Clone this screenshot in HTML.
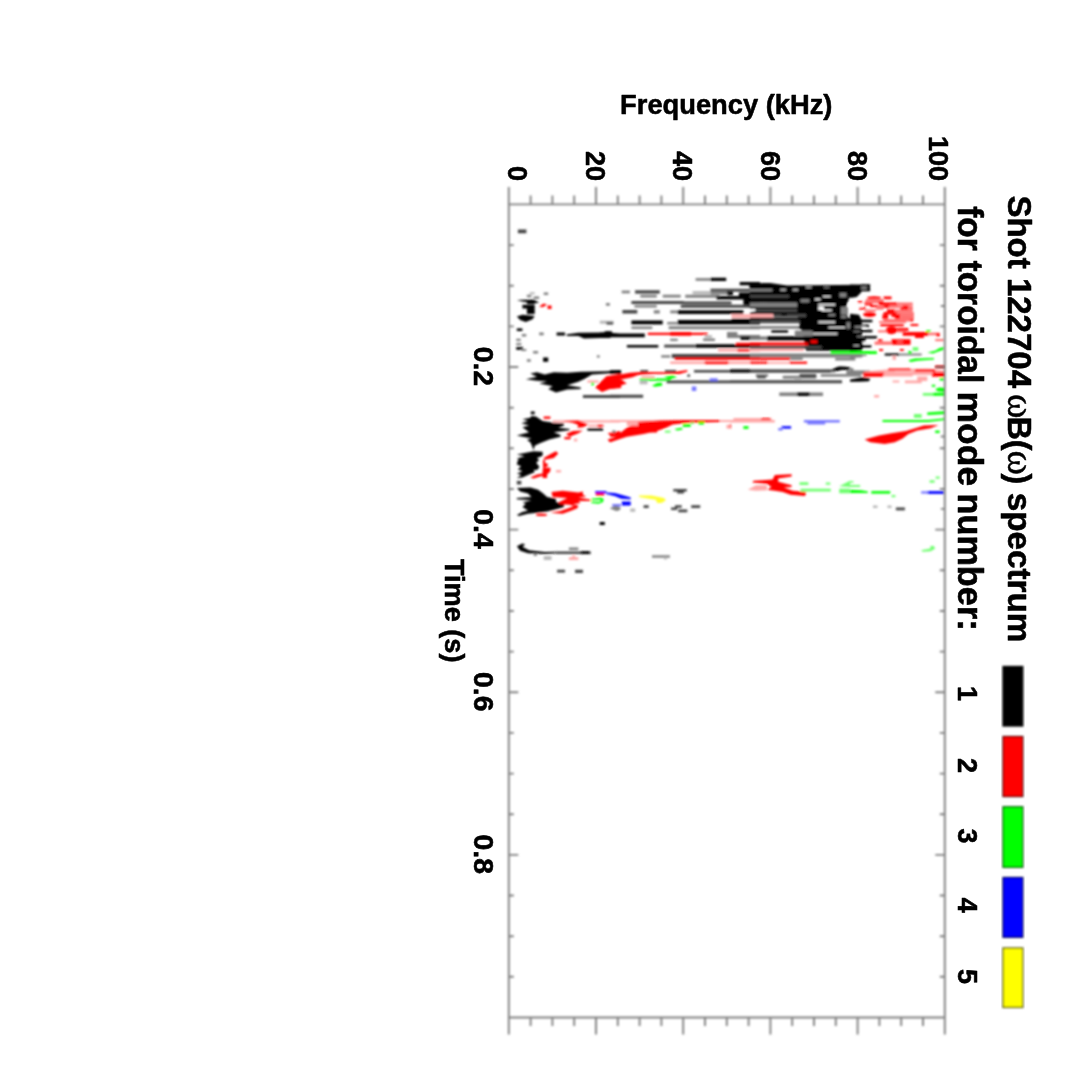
<!DOCTYPE html>
<html lang="en"><head><meta charset="utf-8"><title>Shot 122704 spectrum</title>
<style>html,body{margin:0;padding:0;background:#fff}svg{display:block}text{font-family:"Liberation Sans",Arial,Helvetica,sans-serif;font-weight:bold;fill:#000}.sym{font-family:"Liberation Serif","DejaVu Serif",serif;font-weight:normal;stroke:#000;stroke-width:0.5px}</style></head><body>
<svg width="1071" height="1071" viewBox="0 0 1071 1071">
<defs><filter id="bl" x="-2%" y="-2%" width="104%" height="104%"><feGaussianBlur stdDeviation="0.9"/></filter><filter id="tb"><feGaussianBlur stdDeviation="0.9"/></filter><filter id="ab"><feGaussianBlur stdDeviation="0.9"/></filter><clipPath id="cp"><rect x="508.8" y="204.4" width="436.5" height="813.1"/></clipPath></defs>
<rect width="1071" height="1071" fill="#fff"/>
<g clip-path="url(#cp)"><g filter="url(#bl)">
<path fill="#808080" d="M695.6 278.1H710.5V280.8H695.6Z"/>
<path fill="#000" d="M710.5 277.8H726.2V281.1H710.5ZM739.7 282H760V285.2H739.7ZM749.4 284.2H760V288.1H749.4Z"/>
<path fill="#444" d="M710.5 288.7H760V291.8H710.5Z"/>
<path fill="#b8b8b8" d="M692.6 291.1H710.5V294.3H692.6Z"/>
<path fill="#808080" d="M710.5 290.9H730V294.5H710.5Z"/>
<path fill="#000" d="M727 291.5H733V295.1H727ZM738.9 292.4H760V296.3H738.9Z"/>
<path fill="#808080" d="M621.7 290.6H629.9V293.3H621.7Z"/>
<path fill="#444" d="M635.1 290.3H659.8V293.6H635.1Z"/>
<path fill="#808080" d="M640.3 294.8H656.8V297.5H640.3ZM662.7 294.8H680.7V297.5H662.7ZM685.2 294.8H719.5V297.8H685.2Z"/>
<path fill="#000" d="M716.5 296.1H760V299.6H716.5ZM743.4 298.7H760V306.8H743.4Z"/>
<path fill="#444" d="M631.4 301.1H683.7V304.1H631.4ZM683.7 301.4H731.5V304.2H683.7Z"/>
<path fill="#808080" d="M606 303.2H609.7V305.6H606ZM634.4 305.1H656.8V307.5H634.4Z"/>
<path fill="#444" d="M680.7 304.7H749.4V307.7H680.7Z"/>
<path fill="#000" d="M749.4 304.4H760V308.3H749.4Z"/>
<path fill="#444" d="M752.4 307.4H760V312.7H752.4ZM622.4 310H637.3V313.5H622.4Z"/>
<path fill="#808080" d="M653.8 310.3H659.8V313.5H653.8ZM670.2 310.6H677.7V313.3H670.2Z"/>
<path fill="#000" d="M677.7 310.3H743.4V313.9H677.7Z"/>
<path fill="#ffa8a8" d="M731.5 314.3H760V317.8H731.5Z"/>
<path fill="#000" d="M731.5 318.6H760V321.7H731.5Z"/>
<path fill="#b8b8b8" d="M600 321H613.4V323.7H600Z"/>
<path fill="#000" d="M631.4 320.5H662.7V324.4H631.4Z"/>
<path fill="#808080" d="M667.2 322H677.7V324.4H667.2Z"/>
<path fill="#000" d="M677.7 320.1H760V324.4H677.7Z"/>
<path fill="#808080" d="M631.4 326.5H652.3V328.9H631.4ZM668.7 326.2H760V329.2H668.7Z"/>
<path fill="#000" d="M600 332.5H610.5V338.1H600ZM604.5 331.3H612V335.1H604.5ZM609 333.5H644.8V337.2H609Z"/>
<path fill="#ff0000" d="M647.8 332.7H707.6V334.9H647.8ZM670.2 331.9H691.1V335.7H670.2Z"/>
<path fill="#808080" d="M727 332H737.4V335.1H727ZM727 335H760V338.1H727Z"/>
<path fill="#000" d="M740.4 336.5H760V339.9H740.4Z"/>
<path fill="#808080" d="M670.2 338.7H677.7V341.1H670.2ZM703.1 338.4H715V341.1H703.1Z"/>
<path fill="#b8b8b8" d="M704.6 335.2H712V337.9H704.6Z"/>
<path fill="#000" d="M626.9 344.9H658.3V347.5H626.9Z"/>
<path fill="#444" d="M664.2 344.7H695.6V347.5H664.2Z"/>
<path fill="#000" d="M695.6 344.3H734.4V347.8H695.6ZM734.4 344.7H760V347.7H734.4Z"/>
<path fill="#ff0000" d="M735.9 342.8H760V345.4H735.9Z"/>
<path fill="#ffa8a8" d="M718 349.1H760V351.4H718Z"/>
<path fill="#ff0000" d="M737.4 349.4H749.4V351.4H737.4Z"/>
<path fill="#808080" d="M661.2 355.2H670.2V357.6H661.2Z"/>
<path fill="#444" d="M671.7 354H760V357.9H671.7Z"/>
<path fill="#ff0000" d="M674.7 357.6H760V360H674.7Z"/>
<path fill="#ffa8a8" d="M670.2 361.6H760V364.1H670.2Z"/>
<path fill="#ff0000" d="M704.6 361.6H728.5V364.1H704.6Z"/>
<path fill="#000" d="M750 283.2 L770.2 283 L787 285.5 L863.2 284.8 L870 286.8 L870 289.3 L857.6 291.3 L850.8 294.1 L847.5 302.5 L845.2 310.3 L848.6 318.2 L861.5 319.3 L862 350.7 L806 350.7 L803.8 337.2 L799.3 323.8 L794.8 303.6 L750 302.5Z"/>
<path fill="#808080" d="M750 288.8H772.4V291.5H750Z"/>
<path fill="#b8b8b8" d="M780.3 289H785.9V290.8H780.3ZM792.6 289H798.2V290.8H792.6Z"/>
<path fill="#444" d="M750 295.1H789.2V297.7H750Z"/>
<path fill="#808080" d="M750 302.6H797.1V307.6H750Z"/>
<path fill="#000" d="M750 307.1H797.1V309.1H750Z"/>
<path fill="#fff" d="M750 309H755.6V311.3H750Z"/>
<path fill="#444" d="M755.6 308.8H797.1V312.1H755.6Z"/>
<path fill="#000" d="M750 311.9H806V314.7H750Z"/>
<path fill="#ffa8a8" d="M750 314H773.5V317.9H750Z"/>
<path fill="#444" d="M773.5 314.1H806V317.3H773.5Z"/>
<path fill="#000" d="M781.4 312.1H787V315.3H781.4ZM750 317.7H800.4V320.4H750Z"/>
<path fill="#444" d="M750 320.2H800.4V323.3H750Z"/>
<path fill="#000" d="M798.2 326.1H817.2V328.7H798.2Z"/>
<path fill="#808080" d="M750 326.1H798.2V328.7H750Z"/>
<path fill="#000" d="M771.3 330.1H788.1V332.6H771.3Z"/>
<path fill="#808080" d="M794.8 330.6H812.7V336H794.8Z"/>
<path fill="#000" d="M766.8 336.2H808.3V340.5H766.8Z"/>
<path fill="#808080" d="M750 336.4H766.8V339.9H750Z"/>
<path fill="#ff0000" d="M750 342.6H808.3V345.5H750ZM810.5 340.3H817.2V343.1H810.5Z"/>
<path fill="#444" d="M750 345.7H821.7V348.7H750Z"/>
<path fill="#ffa8a8" d="M750 348.7H803.8V351.1H750Z"/>
<path fill="#808080" d="M750 353.4H862V357.6H750Z"/>
<path fill="#ff0000" d="M750 357.4H790.3V359.9H750Z"/>
<path fill="#808080" d="M790.3 357.5H802.7V360.1H790.3ZM835.2 358.1H855.3V360.6H835.2Z"/>
<path fill="#ff0000" d="M750 361.6H767.9V363.8H750Z"/>
<path fill="#ffa8a8" d="M767.9 361.9H789.2V363.8H767.9Z"/>
<path fill="#ff0000" d="M789.2 361.6H807.1V363.8H789.2Z"/>
<path fill="#808080" d="M750 369.8H835.2V372.4H750Z"/>
<path fill="#000" d="M832.9 369.7 L839.6 366.6 L850.8 367.3 L848.6 370.3 L839.6 369.7Z"/>
<path fill="#808080" d="M846.4 370.4H870V374.1H846.4Z"/>
<path fill="#fff" d="M806 287.2H811.6V288.1H806ZM823.9 287.2H829.6V287.8H823.9ZM822.8 295.9H830.7V297.1H822.8ZM815 298.4H820.6V299.9H815Z"/>
<path fill="#808080" d="M800.4 299.2H809.4V302.4H800.4Z"/>
<path fill="#fff" d="M818.3 304H835.2V305.5H818.3ZM818.3 306.2H823.9V310H818.3ZM821.7 309.6H831.8V311.1H821.7Z"/>
<path fill="#808080" d="M839.6 293.1H846.4V297.3H839.6ZM840.8 307.1H848V314.7H840.8Z"/>
<path fill="#fff" d="M848.6 304H862V306.6H848.6ZM828.4 314.6H835.2V315.6H828.4Z"/>
<path fill="#808080" d="M840.8 315.5H846.4V318.1H840.8Z"/>
<path fill="#fff" d="M818.3 321.3H835.2V322.9H818.3Z"/>
<path fill="#808080" d="M846.4 322.2H850.8V328.7H846.4Z"/>
<path fill="#fff" d="M828.4 326.9H845.2V327.9H828.4ZM854.2 326.9H865.4V327.9H854.2ZM853.1 331.4H860.9V332.4H853.1ZM857.6 336.5H864.3V337.4H857.6ZM862 342.1H870V343.6H862Z"/>
<path fill="#808080" d="M854.2 344.6H859.8V347.8H854.2Z"/>
<path fill="#fff" d="M812.7 333.1H837.4V334.6H812.7Z"/>
<path fill="#00ff00" d="M830.7 351.3H870V354.1H830.7Z"/>
<path fill="#000" d="M850 284.6 L862.3 284.8 L861.2 292.4 L856.7 296.9 L850 298ZM861.2 284.3H870.2V286.8H861.2ZM861.2 288.8H870.2V291.3H861.2Z"/>
<path fill="#808080" d="M861.2 286.4H866.8V289.3H861.2Z"/>
<path fill="#000" d="M850 313.7 L859 314.8 L861.2 319.3 L862.9 348.4 L856.7 350.7 L850 351.2ZM861.2 319.7H872.4V322.2H861.2ZM861.2 324.7H869V326.9H861.2ZM861.2 329.8H872.4V332.3H861.2ZM861.2 335.9H876.9V338.6H861.2ZM861.2 338.8H865.7V341.7H861.2ZM861.2 344.8H871.3V347.5H861.2Z"/>
<path fill="#fff" d="M854.5 326.4H864.6V327.5H854.5ZM853.4 330.9H860.1V331.6H853.4ZM856.7 336.2H863.4V336.7H856.7ZM853.4 345.2H859V346.1H853.4Z"/>
<path fill="#ff0000" d="M866.8 297.8a7.3 1.6 0 1 0 14.6 0a7.3 1.6 0 1 0 -14.6 0ZM883.6 296.6H891.5V299.2H883.6Z"/>
<path fill="#ff7070" d="M865.7 299.1H883.6V301.2H865.7Z"/>
<path fill="#ff0000" d="M857.8 301.1H862.3V303.3H857.8Z"/>
<path fill="#ff7070" d="M864.6 301.1H878V303.4H864.6Z"/>
<path fill="#ff0000" d="M878 301.3H883.6V303.4H878ZM864.6 302.9H872.4V305.2H864.6ZM879.1 302.5H897.1V305.4H879.1Z"/>
<path fill="#ff7070" d="M897.1 302.5H912.7V305.2H897.1Z"/>
<path fill="#ff0000" d="M870.2 305H878V307.2H870.2Z"/>
<path fill="#ff7070" d="M878 305.4H912.7V308.1H878Z"/>
<path fill="#ff0000" d="M883.6 305.4H889.2V307.7H883.6ZM902.7 305.4H908.3V307.7H902.7ZM859 307.3H865.7V309.5H859Z"/>
<path fill="#ff7070" d="M875.8 307.6H883.6V309.7H875.8Z"/>
<path fill="#ff0000" d="M900.4 307.8H908.3V310.6H900.4Z"/>
<path fill="#ff7070" d="M908.3 307.8H912.7V310.1H908.3ZM864.6 309.5H875.8V311.7H864.6Z"/>
<path fill="#ff0000" d="M887 309.2H894.8V311.9H887Z"/>
<path fill="#ff7070" d="M894.8 309.6H912.7V311.9H894.8Z"/>
<path fill="#ff0000" d="M863.1 314.6a6.5 2.5 0 1 0 13 0a6.5 2.5 0 1 0 -13 0ZM883.6 312.1H897.1V314.6H883.6Z"/>
<path fill="#ff7070" d="M897.1 312.1H913.9V314.8H897.1Z"/>
<path fill="#ff0000" d="M882.5 314.3H888.1V319.5H882.5ZM891.5 314.3H900.4V316.9H891.5ZM894.8 316.4H900.4V319.5H894.8Z"/>
<path fill="#ff7070" d="M900.4 314.6H913.9V319.5H900.4ZM883.6 319H912.7V321.6H883.6Z"/>
<path fill="#ff0000" d="M910.5 319H913.3V321.3H910.5Z"/>
<path fill="#ff7070" d="M879.1 321.1H906V323.1H879.1Z"/>
<path fill="#ff0000" d="M880.3 324.1H903.8V326.3H880.3ZM910.5 324.1H918.3V326H910.5ZM885.6 330.3a5.8 3.8 0 1 0 11.7 0a5.8 3.8 0 1 0 -11.7 0Z"/>
<path fill="#ff7070" d="M878 330.3H887V332.4H878Z"/>
<path fill="#ff0000" d="M897.1 328H908.3V331H897.1Z"/>
<path fill="#ff7070" d="M897.1 330.5H906V332.5H897.1Z"/>
<path fill="#ff0000" d="M902.7 331.9H928.4V335.7H902.7ZM915 335H923.9V338H915Z"/>
<path fill="#ff7070" d="M928.4 332.7H939.6V335.2H928.4Z"/>
<path fill="#ff0000" d="M936.3 333.1H939.6V336.4H936.3Z"/>
<path fill="#ff7070" d="M935.2 339H944.1V341.1H935.2Z"/>
<path fill="#ff0000" d="M891.5 339.2H910.5V344.8H891.5Z"/>
<path fill="#fff" d="M897.1 341.6H902.7V342.3H897.1Z"/>
<path fill="#ff7070" d="M874.6 341.5H891.5V344.8H874.6Z"/>
<path fill="#ff0000" d="M878 339.2H882.5V341.4H878ZM879.1 349.1H883.1V351.1H879.1ZM899.9 349.1H903.8V351.1H899.9Z"/>
<path fill="#ffa8a8" d="M892.6 356H895.9V359.9H892.6Z"/>
<path fill="#00ff00" d="M926.2 330.3H930.7V332.1H926.2ZM850 351.3H876.9V354.1H850Z"/>
<path fill="#000" d="M884.7 353.4H899.3V355.6H884.7Z"/>
<path fill="#808080" d="M899.3 353.4H921.7V355.6H899.3ZM850 354 L866.8 354.6 L866.8 355.7 L850 358.5Z"/>
<path fill="#70ff70" d="M912.7 347.1H918.3V350.9H912.7Z"/>
<path fill="#00ff00" d="M927.3 352.4 L935.2 350.7 L939.6 347.9 L944.1 347.3 L944.1 349.6 L937.4 351.8 L932.9 353.5ZM908.3 351H911.6V353.7H908.3ZM908.3 360.2 L915 358.5 L934 358 L934 359.6 L917.2 360.8 L910.5 362.1Z"/>
<path fill="#ff0000" d="M935.2 365.5H945V368.3H935.2Z"/>
<path fill="#ffa8a8" d="M864.6 371.4 L889.2 369.2 L928.4 368.6 L945 370.8 L945 375 L862.3 375Z"/>
<path fill="#ff0000" d="M888.1 368.6H910.5V370.4H888.1ZM915 369.5H935.2V371.7H915Z"/>
<path fill="#fff" d="M894.8 371H912.7V371.4H894.8Z"/>
<path fill="#ff0000" d="M863.4 372.6H883.6V374.7H863.4ZM932.9 372.3H945V375.2H932.9Z"/>
<path fill="#808080" d="M850 368.1H853.4V371.3H850Z"/>
<path fill="#ff0000" d="M863.4 374.3H883.6V376.7H863.4Z"/>
<path fill="#ffa8a8" d="M883.6 374.3H912.7V376.5H883.6Z"/>
<path fill="#ff0000" d="M931.8 373.7H945V376.7H931.8Z"/>
<path fill="#ffa8a8" d="M917.2 376.5H927.3V380.9H917.2ZM892.6 380.4H899.3V382.6H892.6ZM904.9 380.4H921.7V383.2H904.9Z"/>
<path fill="#000" d="M850 379.6 L861.2 377.3 L870.2 378.4 L869 381.2 L859 381.8 L850 381.8Z"/>
<path fill="#808080" d="M850 374.1H861.2V376.7H850Z"/>
<path fill="#00ff00" d="M939.6 378.2H944.1V380.4H939.6ZM931.8 384.7H935.2V386.8H931.8ZM935.2 389.1 L939.6 387.4 L945 388 L945 391.9 L937.4 391.3Z"/>
<path fill="#70ff70" d="M922.8 393H934V395.7H922.8Z"/>
<path fill="#00ff00" d="M932.9 392.8H945V395.7H932.9Z"/>
<path fill="#ffa8a8" d="M874.1 395H879.1V397.5H874.1Z"/>
<path fill="#00ff00" d="M927.3 412.6 L945 411.2 L945 414.1 L927.3 414.9Z"/>
<path fill="#70ff70" d="M913.9 414H921.7V417.9H913.9Z"/>
<path fill="#00ff00" d="M882.5 420.1 L900.4 419.9 L928.4 420.1 L945 418.3 L945 420.1 L928.4 421.9 L900.4 422.1 L882.5 422.1Z"/>
<path fill="#ff0000" d="M864.6 439.5 L879.1 435.6 L891.5 433.3 L906 431.1 L912.7 428.9 L923.9 425.5 L938.5 424.9 L930.7 428.3 L917.2 430.5 L908.3 433.9 L902.7 438.4 L894.8 442.3 L884.7 444 L870.2 442.3Z"/>
<path fill="#00ff00" d="M935.2 430.6H939.6V433H935.2Z"/>
<path fill="#444" d="M730 369.6H830.8V372.4H730Z"/>
<path fill="#000" d="M730 369.6H750.2V372.4H730ZM829.7 370.4 L837.6 366.7 L846.5 366.7 L850 368.9 L842 370 L836.4 371.2Z"/>
<path fill="#808080" d="M755.8 374.1H768.1V376.7H755.8Z"/>
<path fill="#444" d="M756.9 375.8H765.9V378.3H756.9Z"/>
<path fill="#808080" d="M782.7 375.8H816.3V378.7H782.7Z"/>
<path fill="#444" d="M799.5 374.1H816.3V377.2H799.5Z"/>
<path fill="#808080" d="M820.8 374.1H850V376.7H820.8Z"/>
<path fill="#b8b8b8" d="M793.9 378.2H801.7V380.4H793.9Z"/>
<path fill="#444" d="M730 380.2H842V383.2H730Z"/>
<path fill="#808080" d="M779.3 392.6H823V395.9H779.3Z"/>
<path fill="#000" d="M797.2 392.6H809.6V395.9H797.2Z"/>
<path fill="#ffa8a8" d="M733.4 418H771.5V420.4H733.4Z"/>
<path fill="#ff0000" d="M761.4 418H770.3V420.4H761.4Z"/>
<path fill="#ffa8a8" d="M730 419.9H774.8V422.4H730Z"/>
<path fill="#ff0000" d="M730 424.1H731.1V428.6H730Z"/>
<path fill="#00ff00" d="M743.4 426.2H748.5V428.9H743.4Z"/>
<path fill="#0000ff" d="M781.5 426.2H791.1V428.6H781.5Z"/>
<path fill="#7878ff" d="M778.2 428.1H782.7V430.5H778.2ZM803.9 419.9H839.8V422.4H803.9ZM807.3 421.9H825.2V424.4H807.3Z"/>
<path fill="#000" d="M516.8 300 L533.6 299.4 L539.2 302.5 L533.6 303.6 L522.4 301.6ZM526.9 300.9H534.7V304.1H526.9ZM522.4 304.8H534.7V308.5H522.4ZM526.9 307.6H534.7V314.1H526.9ZM516.8 316.5 L522.4 314.8 L534.7 315.9 L532.5 319.3 L525.8 322.1 L520.2 319.9Z"/>
<path fill="#808080" d="M526.9 294.8H531.4V297.3H526.9ZM533.6 296.4H539.2V299H533.6ZM543.7 292.5H548.2V295.1H543.7Z"/>
<path fill="#b8b8b8" d="M529.7 292.2H534.7V294.3H529.7Z"/>
<path fill="#ff0000" d="M539.2 306.4 L543.7 303.6 L547.1 304.7 L542.6 307.2ZM547.6 305.6H551.5V308.9H547.6Z"/>
<path fill="#808080" d="M605.9 303.2H609.8V305.4H605.9Z"/>
<path fill="#b8b8b8" d="M599.7 320.7H613.2V322.9H599.7Z"/>
<path fill="#444" d="M606.4 322H613.2V324.5H606.4Z"/>
<path fill="#000" d="M516.8 328.4H522.4V331H516.8Z"/>
<path fill="#808080" d="M521.8 334H526.3V336.6H521.8ZM539.2 332.5H543.7V335.2H539.2Z"/>
<path fill="#000" d="M556.6 332.5H565V335.4H556.6ZM566.1 334.4 L578.4 332.7 L605.3 332.5 L607.6 331.1 L612 332.7 L620 333.9 L620 336.1 L612 336.1 L607.6 337.8 L584 338.6 L578.4 336.1 L567.2 336.1Z"/>
<path fill="#808080" d="M516.2 338.8H520.7V341H516.2ZM516.2 342.9H521.3V345.3H516.2Z"/>
<path fill="#000" d="M516.2 346.9H523V349.8H516.2Z"/>
<path fill="#808080" d="M521.3 348.9H526.3V351.1H521.3ZM533.1 351.1H538.1V353.6H533.1ZM526.9 359.2H530.8V361.8H526.9Z"/>
<path fill="#000" d="M543.1 357.5H548.2V361.8H543.1Z"/>
<path fill="#808080" d="M596.9 355.3H599.7V357.6H596.9Z"/>
<path fill="#000" d="M525.8 379.3 L537 376.8 L530.3 373.4 L537 372.3 L544.8 374.5 L553.8 372.3 L567.2 372.8 L580.7 371.7 L606.4 371.2 L620 370 L620 372.8 L606.4 373.4 L591.9 374.5 L585.2 378.4 L578.4 381.8 L567.2 385.2 L580.7 387.4 L580.7 389.1 L567.2 389.6 L556 392.5 L548.2 389.1 L552.7 386.3 L539.2 383.5 L547.1 381.2 L537 380.7Z"/>
<path fill="#ff0000" d="M595.2 387.4 L600.8 381.8 L606.4 376.2 L620 374 L620 387.4 L609.8 389.1 L602 391.9Z"/>
<path fill="#ffa8a8" d="M587.4 380.4H598.6V382.6H587.4Z"/>
<path fill="#00ff00" d="M591.3 382.7H594.1V385.2H591.3Z"/>
<path fill="#444" d="M582.9 395H620V397.9H582.9Z"/>
<path fill="#000" d="M516.8 435.6 L529.1 432.2 L522.4 427.2 L529.1 425.5 L521.3 423.3 L528 421 L522.4 419.3 L530.3 417.7 L531.4 416 L535.9 416.5 L542.6 421 L553.8 422.7 L563.9 423.3 L563.9 425.5 L558.3 427.7 L569.5 428.9 L569.5 430.2 L553.8 432.2 L560.5 435 L560.5 436.7 L549.3 439.5 L539.2 443.4 L534.7 445.7 L533.6 450.2 L531.9 445.7 L530.3 442.3 L526.9 440.1 L531.4 438.4ZM530.8 411.6H534.7V414.2H530.8Z"/>
<path fill="#ff0000" d="M543.7 416.5H550.4V418.8H543.7Z"/>
<path fill="#ffa8a8" d="M552.7 420.2H620V422.4H552.7Z"/>
<path fill="#ff0000" d="M562.7 421 L578.4 420.5 L588.5 424.4 L582.9 427.2 L577.3 427.7 L578.4 424.9 L572.8 422.7Z"/>
<path fill="#ffa8a8" d="M588.5 424.7H604.2V426.7H588.5Z"/>
<path fill="#ff0000" d="M597.5 424.7H603.1V426.7H597.5Z"/>
<path fill="#000" d="M587.4 428.2H603.1V430.7H587.4Z"/>
<path fill="#ff0000" d="M566.1 433.9 L572.8 431.1 L582.9 430.5 L578.4 433.3 L569.5 436.7ZM564.4 437H570.6V439.2H564.4Z"/>
<path fill="#ffa8a8" d="M573.9 438.7H577.3V441.4H573.9Z"/>
<path fill="#ff0000" d="M607.6 433.3 L620 431.1 L620 433.3 L609.8 435ZM607.6 439.5 L620 435.6 L620 438.4 L609.8 442.3Z"/>
<path fill="#000" d="M516.8 454.6 L533.6 451.3 L542.6 451.8 L542.6 455.8 L537 458 L539.2 460.2 L535.9 462.5 L539.2 466.4 L537 470 L517.9 470 L521.3 465.8 L516.8 463.6 L522.4 461.4 L516.8 458.6 L524.6 456.3Z"/>
<path fill="#ff0000" d="M543.7 458 L551.5 453.5 L556 451.3 L558.3 453.5 L553.8 458 L544.8 459.7ZM543.1 460H544.8V470.2H543.1ZM544.8 463.3H547.1V466.7H544.8ZM544.8 467.8H550.4V470.2H544.8Z"/>
<path fill="#000" d="M610 370.2H621.2V373.9H610Z"/>
<path fill="#444" d="M640.3 369.9H648.1V372.4H640.3ZM664.9 369.9H676.1V372.4H664.9Z"/>
<path fill="#ff0000" d="M610 376.2 L630.2 372.8 L640.3 371.9 L672.7 372.3 L687.3 370 L687.3 371.7 L679.5 374 L654.8 374 L638 375.1 L632.4 377.3 L621.2 379.6 L610 379.6Z"/>
<path fill="#ffa8a8" d="M641.4 376H654.8V378.1H641.4Z"/>
<path fill="#ff0000" d="M610 379.6 L621.2 379.6 L626.8 383.5 L621.2 385.2 L621.2 388 L610 389.1Z"/>
<path fill="#00ff00" d="M639.7 378.4H670.5V380.7H639.7ZM663.8 376.8 L672.7 375.6 L677.2 377.3 L670.5 379ZM652 385.7 L657.1 382.9 L662.1 382.7 L662.1 385.7 L654.8 386.8Z"/>
<path fill="#b8b8b8" d="M639.7 380.4H647.5V384.3H639.7Z"/>
<path fill="#444" d="M687.3 374.4H690.1V376.7H687.3ZM694 369.9H730V372.6H694ZM666.6 380.5H730V383.2H666.6Z"/>
<path fill="#7878ff" d="M709.7 378.2H717.6V380.9H709.7ZM691.8 386.6H696.3V391H691.8Z"/>
<path fill="#444" d="M610 394.8H643.1V397.7H610Z"/>
<path fill="#ffa8a8" d="M610 419.9H730V421.9H610Z"/>
<path fill="#ff0000" d="M610 434.5 L621.2 432.2 L626.8 427.7 L638 422.1 L660.4 420.5 L688.4 420.1 L719.8 420.1 L719.8 421.9 L688.4 422.7 L672.7 424.4 L666 427.7 L657.1 431.1 L643.6 433.9 L626.8 436.7 L610 442.3 L610 440.1 L616.7 436.7 L610 436.7Z"/>
<path fill="#ffa8a8" d="M626.8 421.9H638V425.8H626.8Z"/>
<path fill="#ff0000" d="M650.3 430.3H657.1V432.5H650.3Z"/>
<path fill="#00ff00" d="M682.8 424.1H690.7V426.9H682.8Z"/>
<path fill="#70ff70" d="M690.7 422.5H694V424.1H690.7Z"/>
<path fill="#00ff00" d="M698.5 422.1H704.1V424.4H698.5ZM674.4 429.1 L681.7 427.7 L682.8 429.4 L677.2 430.5Z"/>
<path fill="#70ff70" d="M664.9 430.6H670.5V432.7H664.9Z"/>
<path fill="#ffa8a8" d="M726.5 424.7H730V428.6H726.5Z"/>
<path fill="#808080" d="M612.2 430.4H615.6V432.7H612.2Z"/>
<path fill="#000" d="M517.9 460 L538.1 460 L535.9 463.4 L539.2 466.7 L538.1 469 L533.6 470.1 L534.7 472.3 L529.1 474.6 L522.4 477.4 L516.8 477.9 L521.3 475.1 L516.8 473.4 L522.4 471.2 L517.9 469 L522.4 466.7 L516.8 464.5Z"/>
<path fill="#ff0000" d="M543.1 459.8H544.8V464.7H543.1ZM543.7 463.7H547.6V466.4H543.7ZM542.6 470.1 L544.8 467.8 L549.3 468.4 L550.4 471.2 L547.1 474.6 L547.1 477.9 L542.6 477.9 L542.6 475.7 L533.6 478.5 L530.3 477.4 L537 474.6 L542.6 473.4Z"/>
<path fill="#ffa8a8" d="M556 470.1H561.1V472.4H556Z"/>
<path fill="#444" d="M516.8 480.8H521.3V484.5H516.8Z"/>
<path fill="#000" d="M516.8 488 L530.3 487.5 L538.1 489.7 L542.6 493.1 L547.1 497 L556 498.7 L556 502 L563.9 504.3 L563.9 507.1 L556 509.3 L547.1 511.5 L537 512.7 L528 513.8 L519 516 L516.8 514.9 L522.4 512.1 L528 510.4 L522.4 507.1 L525.8 503.7 L522.4 502.6 L531.4 500.3 L516.8 499.2 L516.8 498.1 L531.4 497 L528 493.6 L520.2 491.4Z"/>
<path fill="#ff0000" d="M551.5 491.9 L562.7 490.8 L578.4 492.5 L582.9 491.4 L582.9 494.7 L586.3 496.4 L578.4 497.5 L590.8 499.8 L590.8 500.9 L578.4 500.9 L580.7 503.1 L572.8 504.3 L578.4 505.4 L577.3 508.2 L571.7 510.4 L562.7 513.8 L550.4 512.7 L560.5 511 L568.3 508.2 L573.9 505.9 L569.5 504.8 L560.5 504.3 L558.3 502.6 L567.2 498.1 L552.7 497ZM535.9 514.9a5.6 1.1 0 1 0 11.2 0a5.6 1.1 0 1 0 -11.2 0Z"/>
<path fill="#00ff00" d="M591.3 498.7 L600.8 497.5 L603.6 498.7 L603.1 502 L598.6 503.7 L591.3 503.1 L591.3 501.5 L599.7 501.7 L601.4 499.8 L591.3 500.1Z"/>
<path fill="#0000ff" d="M595.2 491.1H606.4V493.3H595.2Z"/>
<path fill="#ff0000" d="M595.8 493H604.2V495.5H595.8Z"/>
<path fill="#0000ff" d="M606.4 492.5 L614.3 493.1 L620 495.3 L620 497 L614.3 495.3 L606.4 494.2Z"/>
<path fill="#7878ff" d="M613.2 504H620V506.2H613.2Z"/>
<path fill="#808080" d="M609.8 508.2 L616.5 505.9 L620 507.1 L620 509.9 L616.5 511Z"/>
<path fill="#000" d="M599.7 522.1H604.8V524.9H599.7ZM516.8 546.3 L522.4 543.5 L525.2 544.6 L522.4 546.8 L529.1 550.2 L544.8 551.9 L556 551.7 L558.3 553.2 L544.8 553.9 L528 553.2 L520.2 550.8Z"/>
<path fill="#444" d="M556 551.4H590.8V553.9H556Z"/>
<path fill="#000" d="M580.7 551.2H589.6V554.1H580.7Z"/>
<path fill="#808080" d="M568.9 547.5H578.4V550.1H568.9Z"/>
<path fill="#b8b8b8" d="M543.7 556.1H551.5V560H543.7Z"/>
<path fill="#808080" d="M533.6 553.7H537V555.9H533.6Z"/>
<path fill="#ffa8a8" d="M568.9 557.2H578.4V560H568.9ZM572.3 555.5H575.1V557.7H572.3Z"/>
<path fill="#0000ff" d="M610 493.1 L616.7 493.4 L625.7 495.9 L630.7 497.5 L630.7 499.2 L621.2 498.7 L614.5 495.9 L610 495ZM621.8 501.4H630.7V505.6H621.8Z"/>
<path fill="#7878ff" d="M612.2 504H621.2V506.2H612.2Z"/>
<path fill="#808080" d="M610 508.2 L615.6 505.4 L621.2 508.2 L616.7 511Z"/>
<path fill="#b8b8b8" d="M630.2 508.5H635.2V511.8H630.2Z"/>
<path fill="#ffff30" d="M639.1 495.6 L651.5 495.6 L663.8 498.1 L666 500.3 L661.5 503.1 L657.1 503.1 L655.9 499.8 L649.2 498.7 L639.1 497Z"/>
<path fill="#444" d="M643.6 505.3H648.7V508.1H643.6ZM673.3 488.9H686.8V491.6H673.3ZM677.2 490.9H683.9V493.5H677.2ZM675 505.3H681.7V507.7H675ZM671.1 507.5H677.2V510H671.1ZM678.3 509.4H687.3V512.2H678.3ZM691.2 505.3H700.2V508.1H691.2Z"/>
<path fill="#808080" d="M652 555.3H669.9V557.7H652Z"/>
<path fill="#b8b8b8" d="M663.8 557.2H667.1V559.4H663.8Z"/>
<path fill="#ff0000" d="M774.8 475.1 L791.6 474.3 L791.6 476.6 L778.2 478.5 L778.2 481.8 L791.6 485.2 L791.6 486.9 L783.8 487.5 L792.7 490.8 L806.2 491.9 L805.1 495.9 L790.5 494.7 L782.7 491.9 L774.8 490.8 L767 489.7 L771.5 486.9 L767 484.1 L752.4 482.4 L753.5 480.7 L772.6 479.6Z"/>
<path fill="#ffa8a8" d="M747.9 489.7 L755.8 485.2 L767 485.2 L767 490.3 L755.8 490.8Z"/>
<path fill="#70ff70" d="M799.5 482.2H808.4V484.9H799.5ZM825.8 482.5H830.3V484.7H825.8ZM800.6 488.7H830.8V491.4H800.6ZM839.2 486.3 L850 480.7 L850 486.9ZM839.2 488.7H850V493.3H839.2ZM850 485H860.1V487.1H850Z"/>
<path fill="#00ff00" d="M850 489.7 L861.2 490.3 L867.9 491.4 L867.9 493.1 L850 493.1Z"/>
<path fill="#70ff70" d="M850 481H853.4V482.7H850Z"/>
<path fill="#00ff00" d="M871.3 491.1H890.3V493.6H871.3Z"/>
<path fill="#70ff70" d="M891.5 495H895.4V497.2H891.5Z"/>
<path fill="#b8b8b8" d="M873 505.5H877.5V507.9H873ZM887.5 505.5H891.5V507.9H887.5Z"/>
<path fill="#444" d="M895.9 507.5H904.9V510.3H895.9Z"/>
<path fill="#70ff70" d="M929.6 480.3H934.6V482.7H929.6ZM935.7 476.6H939.6V478.7H935.7Z"/>
<path fill="#0000ff" d="M927.3 491.1H944.1V493.9H927.3Z"/>
<path fill="#7878ff" d="M921.1 491.3H928.4V493.6H921.1Z"/>
<path fill="#70ff70" d="M921.1 550.2 L930.7 548.5 L930.1 546.3 L933.5 545.7 L935.2 548.5 L930.7 551.3 L922.8 551.7Z"/>
<path fill="#444" d="M517.9 229.6H526.4V233.2H517.9ZM557.1 569.8H565V572.5H557.1ZM575.1 569.8H582.9V572.9H575.1Z"/>
</g></g>
<path fill="none" stroke="#808080" stroke-width="1.9" filter="url(#ab)" d="M508.8 204.4H944.8V1017.5H508.8ZM508.8 204.4v-17.5M508.8 1017.5v17M530.6 204.4v-9M530.6 1017.5v8.5M552.4 204.4v-9M552.4 1017.5v8.5M574.2 204.4v-9M574.2 1017.5v8.5M596 204.4v-17.5M596 1017.5v17M617.8 204.4v-9M617.8 1017.5v8.5M639.6 204.4v-9M639.6 1017.5v8.5M661.4 204.4v-9M661.4 1017.5v8.5M683.2 204.4v-17.5M683.2 1017.5v17M705 204.4v-9M705 1017.5v8.5M726.8 204.4v-9M726.8 1017.5v8.5M748.6 204.4v-9M748.6 1017.5v8.5M770.4 204.4v-17.5M770.4 1017.5v17M792.2 204.4v-9M792.2 1017.5v8.5M814 204.4v-9M814 1017.5v8.5M835.8 204.4v-9M835.8 1017.5v8.5M857.6 204.4v-17.5M857.6 1017.5v17M879.4 204.4v-9M879.4 1017.5v8.5M901.2 204.4v-9M901.2 1017.5v8.5M923 204.4v-9M923 1017.5v8.5M944.8 204.4v-17.5M944.8 1017.5v17M508.8 245.1h5M944.8 245.1h-5M508.8 285.7h5M944.8 285.7h-5M508.8 326.4h5M944.8 326.4h-5M508.8 367h9.5M944.8 367h-9.5M508.8 407.7h5M944.8 407.7h-5M508.8 448.3h5M944.8 448.3h-5M508.8 489h5M944.8 489h-5M508.8 529.6h9.5M944.8 529.6h-9.5M508.8 570.3h5M944.8 570.3h-5M508.8 611h5M944.8 611h-5M508.8 651.6h5M944.8 651.6h-5M508.8 692.3h9.5M944.8 692.3h-9.5M508.8 732.9h5M944.8 732.9h-5M508.8 773.6h5M944.8 773.6h-5M508.8 814.2h5M944.8 814.2h-5M508.8 854.9h9.5M944.8 854.9h-9.5M508.8 895.5h5M944.8 895.5h-5M508.8 936.2h5M944.8 936.2h-5M508.8 976.8h5M944.8 976.8h-5M944.8 306h-4M944.8 436.5h-4M944.8 508.9h-4"/>
<g stroke="#000" stroke-width="0.55" stroke-linejoin="round">
<text transform="translate(507.8 181) rotate(90)" font-size="27.0" text-anchor="end">0</text>
<text transform="translate(586.2 181) rotate(90)" font-size="27.0" text-anchor="end">20</text>
<text transform="translate(673.4 181) rotate(90)" font-size="27.0" text-anchor="end">40</text>
<text transform="translate(760.6 181) rotate(90)" font-size="27.0" text-anchor="end">60</text>
<text transform="translate(847.8 181) rotate(90)" font-size="27.0" text-anchor="end">80</text>
<text transform="translate(928.6 181) rotate(90)" font-size="27.0" text-anchor="end">100</text>
<text transform="translate(474 366.4) rotate(90) scale(1.05 1.0)" font-size="27.0" text-anchor="middle">0.2</text>
<text transform="translate(474 529) rotate(90) scale(1.05 1.0)" font-size="27.0" text-anchor="middle">0.4</text>
<text transform="translate(474 691.7) rotate(90) scale(1.05 1.0)" font-size="27.0" text-anchor="middle">0.6</text>
<text transform="translate(474 854.3) rotate(90) scale(1.05 1.0)" font-size="27.0" text-anchor="middle">0.8</text>
<text x="726.3" y="113.6" font-size="27.3" text-anchor="middle">Frequency (kHz)</text>
<text transform="translate(445.2 610.7) rotate(90)" font-size="27.1" text-anchor="middle">Time (s)</text>
<text transform="translate(1008.3 195.4) rotate(90) scale(1.016 1)" font-size="32.5" text-anchor="start">Shot 122704</text>
<text transform="translate(1008.3 394) rotate(90)" font-size="37" text-anchor="start" class="sym">ω</text>
<text transform="translate(1008.3 416.4) rotate(90)" font-size="32.5" text-anchor="start">B(</text>
<text transform="translate(1008.3 450.6) rotate(90)" font-size="37" text-anchor="start" class="sym">ω</text>
<text transform="translate(1008.3 473.4) rotate(90)" font-size="32.5" text-anchor="start">)</text>
<text transform="translate(1008.3 492.7) rotate(90) scale(1.024 1)" font-size="32.5" text-anchor="start">spectrum</text>
<text transform="translate(958.3 206.2) rotate(90) scale(1.0 1.02)" font-size="33.5" text-anchor="start">for</text>
<text transform="translate(958.3 260.5) rotate(90) scale(1.0 1.02)" font-size="33.5" text-anchor="start">toroidal</text>
<text transform="translate(958.3 391.5) rotate(90) scale(1.06 1.02)" font-size="33.5" text-anchor="start">mode</text>
<text transform="translate(958.3 493.5) rotate(90) scale(1.024 1.02)" font-size="33.5" text-anchor="start">number:</text>
<text transform="translate(957.7 693.5) rotate(90)" font-size="27.0" text-anchor="middle">1</text>
<text transform="translate(957.7 765.5) rotate(90)" font-size="27.0" text-anchor="middle">2</text>
<text transform="translate(957.7 836) rotate(90)" font-size="27.0" text-anchor="middle">3</text>
<text transform="translate(957.7 905) rotate(90)" font-size="27.0" text-anchor="middle">4</text>
<text transform="translate(957.7 976.5) rotate(90)" font-size="27.0" text-anchor="middle">5</text>
</g>
<g filter="url(#tb)">
<rect x="1003" y="666.5" width="19.8" height="59.5" fill="#000" stroke="#000" stroke-width="1.3"/>
<rect x="1003" y="736.5" width="19.8" height="60" fill="#ff0000" stroke="#4a0000" stroke-width="1.3"/>
<rect x="1003" y="806.8" width="19.8" height="60.5" fill="#00ff00" stroke="#004a00" stroke-width="1.3"/>
<rect x="1003" y="877.5" width="19.8" height="59.8" fill="#0000ff" stroke="#00004a" stroke-width="1.3"/>
<rect x="1003" y="948" width="19.8" height="59.4" fill="#ffff00" stroke="#4a4a00" stroke-width="1.3"/>
</g>
</svg></body></html>
